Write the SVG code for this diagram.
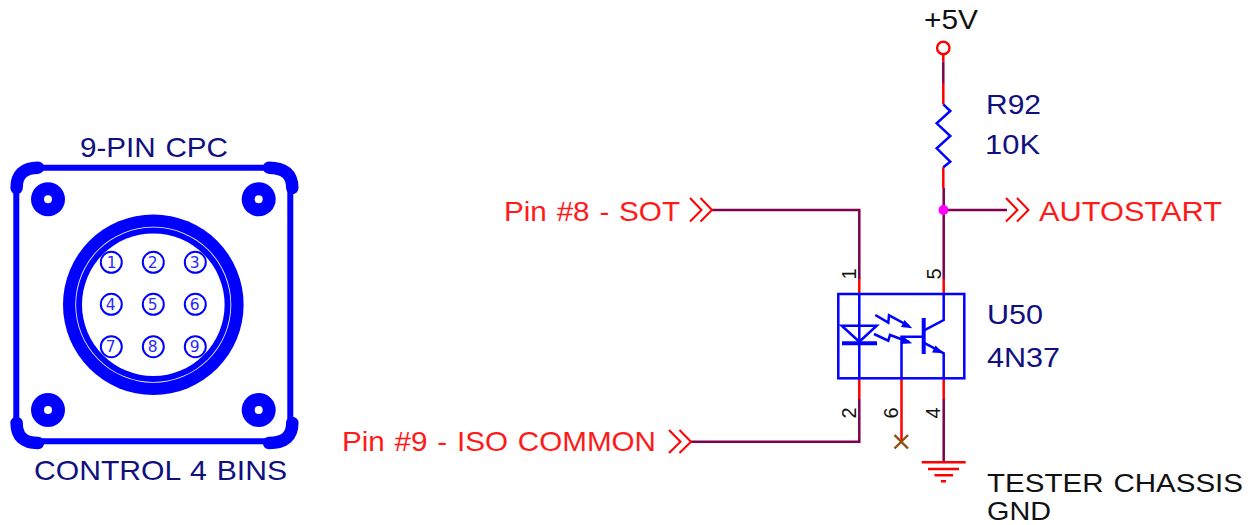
<svg xmlns="http://www.w3.org/2000/svg" width="1252" height="525" viewBox="0 0 1252 525">
<style>
text{font-family:"Liberation Sans",Arial,sans-serif;font-size:28.5px;word-spacing:1.5px}
.navy{fill:#10107f}.red{fill:#ff1a1a}.blk{fill:#111}
.sm{font-size:25.5px}
.num{font-size:20px;fill:#111;text-anchor:middle}
.pn{font-family:"DejaVu Sans",sans-serif;font-size:15.5px;fill:#2a2aff;text-anchor:middle}
.b{fill:none;stroke:#0000ff;stroke-width:2.5}
.bt{fill:none;stroke:#0000ff;stroke-width:6}
.bc{fill:none;stroke:#0000ff;stroke-width:12.5;stroke-linecap:round}
.pin{fill:#fff;stroke:#0000ff;stroke-width:2}
.r{fill:none;stroke:#ff0000;stroke-width:2.5}
.p{fill:none;stroke:#800050;stroke-width:2.5}
.ch{fill:none;stroke:#ff0000;stroke-width:2}
.hole{fill:#0000ff}
</style>
<g id="connector-9pin">
<path class="bt" d="M16.3 188V423M290.3 188V423M38 167.7H269M38 441.3H269"/>
<path class="bc" d="M16.6 188Q16.6 167.7 38 167.7M292.3 188Q292.3 167.7 269 167.7M16.6 423Q16.6 443 38 443M292.3 423Q292.3 443 269 443"/>
<g id="mounts">
<circle class="hole" cx="48" cy="199.3" r="17"/><circle cx="48" cy="199.3" r="4" fill="#fff"/>
<circle class="hole" cx="258.7" cy="199.3" r="17"/><circle cx="258.7" cy="199.3" r="4" fill="#fff"/>
<circle class="hole" cx="48" cy="410" r="17"/><circle cx="48" cy="410" r="4" fill="#fff"/>
<circle class="hole" cx="258.7" cy="410" r="17"/><circle cx="258.7" cy="410" r="4" fill="#fff"/>
</g>
<circle cx="153.3" cy="304.7" r="90.3" class="hole"/>
<circle cx="153.3" cy="304.7" r="78" fill="#fff"/>
<circle cx="153.3" cy="304.7" r="77.2" class="hole"/>
<circle cx="153.3" cy="304.7" r="71.3" fill="#fff"/>
<circle class="pin" cx="111.3" cy="262.3" r="10.5"/><text class="pn" x="111.8" y="268">1</text>
<circle class="pin" cx="153.3" cy="262.3" r="10.5"/><text class="pn" x="152.8" y="268">2</text>
<circle class="pin" cx="195.3" cy="262.3" r="10.5"/><text class="pn" x="194.8" y="268">3</text>
<circle class="pin" cx="111.3" cy="304.3" r="10.5"/><text class="pn" x="110.8" y="310">4</text>
<circle class="pin" cx="153.3" cy="304.3" r="10.5"/><text class="pn" x="152.8" y="310">5</text>
<circle class="pin" cx="195.3" cy="304.3" r="10.5"/><text class="pn" x="194.8" y="310">6</text>
<circle class="pin" cx="111.3" cy="346.7" r="10.5"/><text class="pn" x="110.8" y="351.5">7</text>
<circle class="pin" cx="153.3" cy="346.7" r="10.5"/><text class="pn" x="152.8" y="351.5">8</text>
<circle class="pin" cx="195.3" cy="346.7" r="10.5"/><text class="pn" x="194.8" y="351.5">9</text>
<text class="navy" x="80" y="156.7" textLength="148" lengthAdjust="spacingAndGlyphs">9-PIN CPC</text>
<text class="navy" x="34" y="480" textLength="253" lengthAdjust="spacingAndGlyphs">CONTROL 4 BINS</text>
</g>
<g id="connectors">
<path class="p" d="M711.7 210H859.3V279M691 441.7H859.3V399M943.7 188V279M943.7 210H1007M943.7 399V462M943.3 61.7V83"/>
<path class="r" d="M859.3 279V294M943.7 279V294M859.3 378V399M943.7 378V399M901.5 378V441.7M943.3 54V61.7M943.3 83V104.3M943.3 167.3V188"/>
<path class="ch" d="M690 198L701.5 210L690 221.5M700.5 198L712 210L700.5 221.5"/>
<path class="ch" d="M669 430L680.5 441.7L669 453M679.5 430L691 441.7L679.5 453"/>
<path class="ch" d="M1006 198L1017.5 210L1006 221.5M1017 198L1028.5 210L1017 221.5"/>
</g>
<g id="vcc">
<circle cx="943.3" cy="48" r="6.2" fill="#fff" stroke="#ff0000" stroke-width="2.4"/>
<text class="blk" x="924" y="28.5" textLength="54" lengthAdjust="spacingAndGlyphs">+5V</text>
</g>
<g id="r92">
<path class="b" d="M943.3 104.3L950.3 111L936.7 123.3L950.3 136L936.7 148.3L950.3 161.7L943.3 167.3"/>
<text class="navy" x="986" y="113.5" textLength="55" lengthAdjust="spacingAndGlyphs">R92</text>
<text class="navy" x="985" y="153.5" textLength="55" lengthAdjust="spacingAndGlyphs">10K</text>
</g>
<g id="junction"><circle cx="943.5" cy="210" r="5" fill="#ff00ff"/></g>
<g id="u50">
<rect class="b" x="838.3" y="294" width="126" height="84.3"/>
<path class="b" d="M859.3 294V378M841.7 325.7H876.7L859.3 341.7Z"/>
<path d="M842 343.3H877" fill="none" stroke="#0000ff" stroke-width="4"/>
<path class="b" d="M875.3 315L888.3 322.7L889 315.3L909 326M874 334L888.3 340.7L890 335L909 342"/>
<path d="M912.3 328.3L901 327L904.5 320ZM912.3 343.3L901 344L903 336.5Z" fill="#0000ff"/>
<path d="M923.7 318V354" fill="none" stroke="#0000ff" stroke-width="4"/>
<path class="b" d="M901.5 378V336.7H923.7M923.7 330.7L943.7 320V294M923.7 342.7L943.7 353.3V378"/>
<path d="M943.7 353.3L932 352.5L935.5 345.5Z" fill="#0000ff"/>
<text class="num" transform="translate(856 274) rotate(-90)">1</text>
<text class="num" transform="translate(940.7 274) rotate(-90)">5</text>
<text class="num" transform="translate(856 413) rotate(-90)">2</text>
<text class="num" transform="translate(898 413) rotate(-90)">6</text>
<text class="num" transform="translate(940 413) rotate(-90)">4</text>
<text class="navy" x="987" y="324" textLength="56" lengthAdjust="spacingAndGlyphs">U50</text>
<text class="navy" x="987" y="367" textLength="73" lengthAdjust="spacingAndGlyphs">4N37</text>
</g>
<g id="nc">
<path d="M894.5 435L908 448.5M908 435L894.5 448.5" fill="none" stroke="#8b4f10" stroke-width="2.4"/>
</g>
<g id="gnd">
<path class="r" d="M921.7 462.3H965.7M928 469H959M934.5 475.3H953M941 481.3H946"/>
<text class="blk sm" x="987" y="491.5" textLength="256" lengthAdjust="spacingAndGlyphs">TESTER CHASSIS</text>
<text class="blk sm" x="987" y="519.5" textLength="64" lengthAdjust="spacingAndGlyphs">GND</text>
</g>
<g id="labels">
<text class="red" x="504" y="220.5" textLength="176" lengthAdjust="spacingAndGlyphs">Pin #8 - SOT</text>
<text class="red" x="342" y="451" textLength="314" lengthAdjust="spacingAndGlyphs">Pin #9 - ISO COMMON</text>
<text class="red" x="1039" y="220.5" textLength="183" lengthAdjust="spacingAndGlyphs">AUTOSTART</text>
</g>
</svg>
